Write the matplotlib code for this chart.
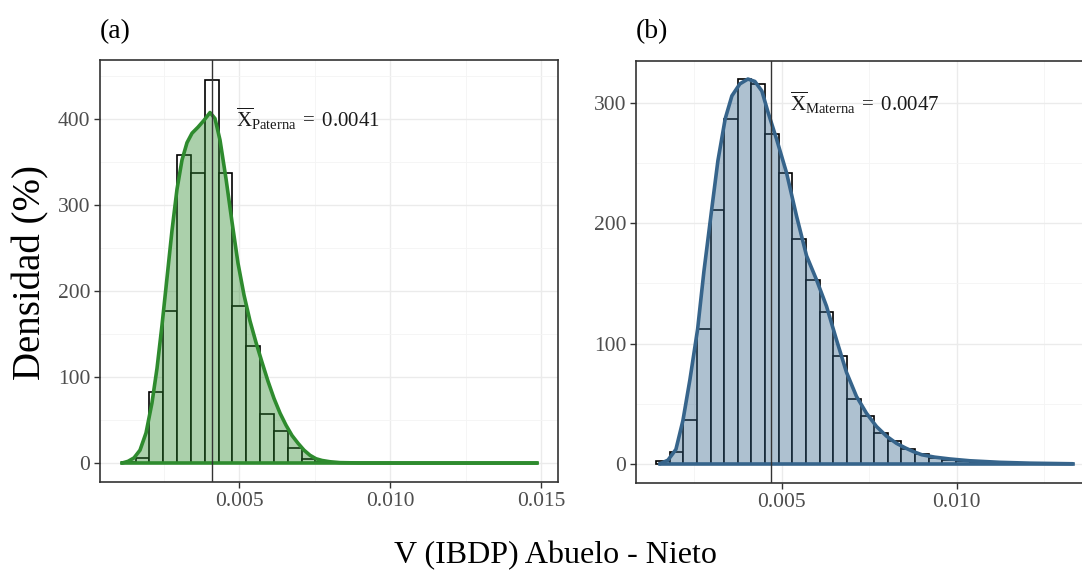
import matplotlib
matplotlib.use("Agg")
import matplotlib.pyplot as plt

# ---------------- data ----------------
# Panel (a): paternal
a_bin_start = 0.00112
a_bin_width = 0.000458
a_hist = [1, 6, 82, 177, 358, 337, 445, 337, 182, 136, 57, 37, 17, 5, 1,
          0.5, 0, 0, 0, 0, 0, 0, 0, 0, 0, 0, 0, 0, 0, 0]
a_dens_x = [0.001126, 0.001325, 0.001523, 0.001722, 0.001921, 0.002119, 0.002285,
            0.002450, 0.002616, 0.002781, 0.002947, 0.003113, 0.003278, 0.003444,
            0.003642, 0.003841, 0.004040, 0.004205, 0.004371, 0.004570, 0.004768,
            0.004967, 0.005166, 0.005364, 0.005563, 0.005762, 0.005960, 0.006159,
            0.006358, 0.006556, 0.006755, 0.006954, 0.007152, 0.007351, 0.007550,
            0.007748, 0.008013, 0.008344, 0.009007, 0.010331, 0.014868]
a_dens_y = [0, 2, 6, 15, 35, 70, 110, 160, 215, 270, 318, 352, 372, 383,
            390, 398, 407, 400, 375, 330, 280, 232, 195, 165, 140, 117, 95, 75,
            58, 44, 32, 23, 15, 9, 5, 3, 1.5, 0.5, 0.1, 0, 0]
a_mean = 0.0041
a_label = r'$\overline{\mathrm{X}}_{\mathrm{Paterna}}\;=\;0.0041$'

# Panel (b): maternal
b_bin_start = 0.00140
b_bin_width = 0.000390
b_hist = [2, 10, 36, 112, 211, 287, 320, 316, 274, 242, 187, 153, 126, 90, 54,
          40, 26, 19, 12, 8, 5, 3, 2, 1, 1, 0.5, 0.3, 0.2, 0.1, 0.1]
b_dens_x = [0.001514, 0.001743, 0.001971, 0.002171, 0.002371, 0.002591, 0.002771,
            0.002991, 0.003171, 0.003380, 0.003571, 0.003800, 0.004029, 0.004229,
            0.004429, 0.004609, 0.004849, 0.005134, 0.005420, 0.005706, 0.005991,
            0.006277, 0.006563, 0.006849, 0.007134, 0.007420, 0.007706, 0.007991,
            0.008277, 0.008543, 0.008771, 0.009000, 0.009371, 0.009800, 0.010371,
            0.011229, 0.012086, 0.013314]
b_dens_y = [0, 3, 12, 36, 70, 112, 160, 211, 252, 287, 306, 316, 320, 318,
            310, 292, 270, 242, 206, 173, 153, 131, 103, 76, 56, 42, 31, 23,
            17, 13, 10, 7.5, 5.5, 4, 2.5, 1.2, 0.5, 0]
b_mean = 0.0047
b_label = r'$\overline{\mathrm{X}}_{\mathrm{Materna}}\;=\;0.0047$'

# ---------------- style ----------------
plt.rcParams['font.family'] = ['Liberation Serif', 'DejaVu Serif']
plt.rcParams['mathtext.fontset'] = 'custom'
plt.rcParams['mathtext.rm'] = 'Liberation Serif'
plt.rcParams['mathtext.it'] = 'Liberation Serif:italic'
plt.rcParams['mathtext.bf'] = 'Liberation Serif:bold'

W, H = 1082, 579
fig = plt.figure(figsize=(W / 100, H / 100), dpi=100)


def px_axes(l, t, r, b):
    return [l / W, (H - b) / H, (r - l) / W, (b - t) / H]


def draw_panel(ax, start, bw, hist, dx, dy, mean, label, color,
               xlim, ylim, yticks, xticks, xminor, yminor, label_x, label_y):
    ax.set_xlim(*xlim)
    ax.set_ylim(*ylim)
    ax.set_xticks(xticks)
    ax.set_xticks(xminor, minor=True)
    ax.set_yticks(yticks)
    ax.set_yticks(yminor, minor=True)
    ax.set_xticklabels([f"{t:.3f}" for t in xticks])
    ax.set_yticklabels([f"{t:d}" for t in yticks])
    ax.grid(which='major', color='#EBEBEB', lw=1.0)
    ax.grid(which='minor', color='#F4F4F4', lw=0.6)
    ax.set_axisbelow(True)
    ax.tick_params(which='major', length=4, width=1.0, color='#333333',
                   labelsize=15.5, labelcolor='#4D4D4D', pad=3)
    ax.tick_params(which='minor', length=0)
    for s in ax.spines.values():
        s.set_color('#333333')
        s.set_linewidth(1.2)

    edges = [start + i * bw for i in range(len(hist))]
    ax.bar(edges, hist, width=bw, align='edge', facecolor='white',
           edgecolor='black', linewidth=1.2, zorder=2)
    ax.fill_between(dx, dy, 0, color=color, alpha=0.4, lw=0, zorder=3)
    ax.plot(dx, dy, color=color, lw=2.6, zorder=4, solid_capstyle='round')
    ax.plot([dx[0], dx[-1]], [0, 0], color=color, lw=2.6, zorder=4)
    ax.axvline(mean, color='#333333', lw=1.0, zorder=5)
    ax.text(label_x, label_y, label, fontsize=15, color='#1a1a1a',
            ha='left', va='center', zorder=6)


ax_a = fig.add_axes(px_axes(100, 60, 558, 482))
draw_panel(ax_a, a_bin_start, a_bin_width, a_hist, a_dens_x, a_dens_y, a_mean,
           a_label, '#2E8B2E',
           xlim=(0.000397, 0.015563), ylim=(-22, 468),
           yticks=[0, 100, 200, 300, 400], xticks=[0.005, 0.010, 0.015],
           xminor=[0.0025, 0.0075, 0.0125], yminor=[50, 150, 250, 350, 450],
           label_x=0.0049, label_y=400)

ax_b = fig.add_axes(px_axes(636, 61, 1091, 483))
draw_panel(ax_b, b_bin_start, b_bin_width, b_hist, b_dens_x, b_dens_y, b_mean,
           b_label, '#36648B',
           xlim=(0.000829, 0.01384), ylim=(-16, 335),
           yticks=[0, 100, 200, 300], xticks=[0.005, 0.010],
           xminor=[0.0025, 0.0075, 0.0125], yminor=[50, 150, 250],
           label_x=0.00523, label_y=300)
ax_b.spines['right'].set_visible(False)

fig.text(100 / W, (H - 32) / H, '(a)', fontsize=20, ha='left', va='center')
fig.text(636 / W, (H - 32) / H, '(b)', fontsize=20, ha='left', va='center')
fig.text(31 / W, (H - 272) / H, 'Densidad (%)', fontsize=28, rotation=90,
         ha='center', va='center')
fig.text(555 / W, (H - 556) / H, 'V (IBDP) Abuelo - Nieto', fontsize=23,
         ha='center', va='center')

fig.savefig('out.png', dpi=100)
